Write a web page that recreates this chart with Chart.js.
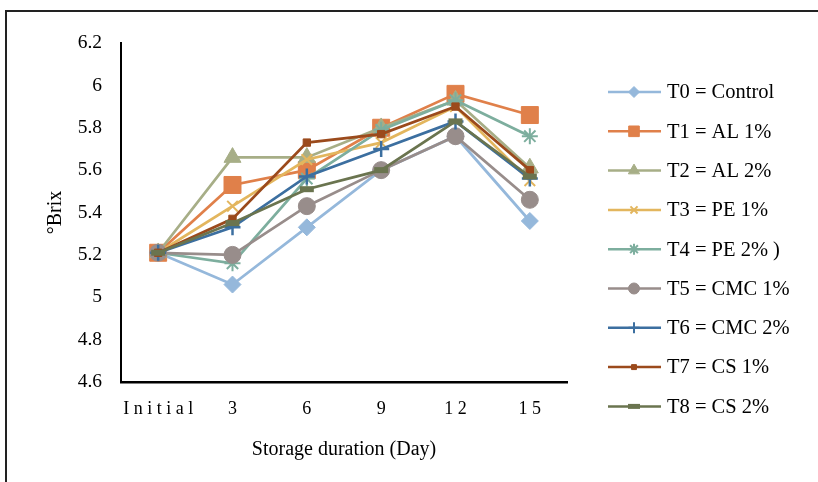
<!DOCTYPE html>
<html>
<head>
<meta charset="utf-8">
<script src="https://cdn.jsdelivr.net/npm/chart.js@4.4.0/dist/chart.umd.min.js"></script>
<style>
html, body { margin: 0; padding: 0; background: #fff; overflow: hidden; }
#wrap { position: relative; width: 818px; height: 482px; }
#frame { position: absolute; left: 5px; top: 10px; width: 900px; height: 600px; border: 2px solid #222; box-sizing: border-box; }
canvas { position: absolute; left: 0; top: 0; }
</style>
</head>
<body>
<div id="wrap">
    <div id="frame"></div>
    <canvas id="myChart" width="818" height="482"></canvas>
</div>
<script>
// storage days and treatment names
const days = ['Initial', '3', '6', '9', '12', '15'];
const treatments = [
    'T0 = Control', 'T1 = AL 1%', 'T2 = AL 2%', 'T3 = PE 1%', 'T4 = PE 2% )',
    'T5 = CMC 1%', 'T6 = CMC 2%', 'T7 = CS 1%', 'T8 = CS 2%'
];

// °Brix per treatment
const t0 = [5.21, 5.06, 5.33, 5.60, 5.76, 5.36];
const t1 = [5.21, 5.53, 5.60, 5.80, 5.96, 5.86];
const t2 = [5.21, 5.66, 5.66, 5.80, 5.93, 5.61];
const t3 = [5.21, 5.43, 5.65, 5.73, 5.90, 5.55];
const t4 = [5.21, 5.16, 5.56, 5.79, 5.93, 5.76];
const t5 = [5.21, 5.20, 5.43, 5.60, 5.76, 5.46];
const t6 = [5.21, 5.33, 5.57, 5.70, 5.83, 5.56];
const t7 = [5.21, 5.37, 5.73, 5.77, 5.90, 5.60];
const t8 = [5.21, 5.35, 5.51, 5.60, 5.83, 5.57];
const values = [t0, t1, t2, t3, t4, t5, t6, t7, t8];

const yMin = 4.6, yMax = 6.2, yStep = 0.2;

// look of each series: colour, marker, marker size (plot / legend)
const colors = ['#95b8db', '#e0804a', '#a7ae87', '#e3b65e', '#7dae9e', '#988d8b', '#3c6fa0', '#9b4a1c', '#6a744f'];
const markers = ['rectRot', 'rect', 'triangle', 'crossRot', 'star', 'circle', 'cross', 'rect', 'line'];
const markerSize = [8.5, 12, 9.8, 7.5, 8, 8.5, 8, 5.2, 7];
const markerBorder = [1, 1, 1, 2, 2, 1, 2.5, 1, 6];
const legendSize = [5.5, 7.5, 6.5, 5, 5.5, 5.5, 5.5, 3.5, 6];
const legendBorder = [1, 1, 1, 2, 2, 1, 2, 1, 5];

const serif = '"Liberation Serif", "Times New Roman", serif';

const datasets = treatments.map((name, i) => ({
    label: name,
    data: values[i],
    borderColor: colors[i],
    backgroundColor: colors[i],
    pointBackgroundColor: colors[i],
    pointBorderColor: colors[i],
    pointStyle: markers[i],
    pointRadius: markerSize[i],
    pointBorderWidth: markerBorder[i],
    borderWidth: 2.75,
    tension: 0,
    fill: false,
    order: treatments.length - i
}));

// legend on the right: line + marker + name
const sideLegend = {
    id: 'sideLegend',
    afterDraw(chart) {
        const ctx = chart.ctx;
        const top = 92, step = 39.3;
        chart.data.datasets.forEach((ds, i) => {
            const y = top + i * step;
            ctx.save();
            ctx.strokeStyle = ds.borderColor;
            ctx.lineWidth = 2.5;
            ctx.beginPath();
            ctx.moveTo(608, y);
            ctx.lineTo(661, y);
            ctx.stroke();
            ctx.fillStyle = ds.pointBackgroundColor;
            ctx.strokeStyle = ds.pointBorderColor;
            ctx.lineWidth = legendBorder[i];
            Chart.helpers.drawPoint(ctx, {
                pointStyle: ds.pointStyle,
                radius: legendSize[i],
                rotation: 0,
                borderWidth: legendBorder[i]
            }, 634, y);
            ctx.fillStyle = '#000';
            ctx.font = '20.5px ' + serif;
            ctx.textBaseline = 'middle';
            ctx.textAlign = 'left';
            ctx.fillText(ds.label, 667, y + 1);
            ctx.restore();
        });
    }
};

new Chart(document.getElementById('myChart'), {
    type: 'line',
    data: { labels: days, datasets },
    options: {
        responsive: false,
        animation: false,
        layout: { padding: { left: 0, right: 251, top: 43, bottom: 0 } },
        plugins: { legend: { display: false }, tooltip: { enabled: false } },
        scales: {
            x: {
                offset: true,
                grid: { drawOnChartArea: false, drawTicks: false },
                border: { display: true, color: '#000', width: 2.5 },
                ticks: {
                    color: '#000',
                    padding: 16,
                    maxRotation: 0,
                    font: { family: serif, size: 18 },
                    // letter-spaced category labels
                    callback: function (v) { return this.getLabelForValue(v).split('').join(' '); }
                },
                title: {
                    display: true,
                    text: 'Storage duration (Day)',
                    color: '#000',
                    font: { family: serif, size: 20 },
                    padding: { top: 0, bottom: 20 }
                },
                afterFit: s => { s.height = 100; }
            },
            y: {
                min: yMin,
                max: yMax,
                grid: { drawOnChartArea: false, drawTicks: false },
                border: { display: true, color: '#000', width: 2 },
                ticks: {
                    stepSize: yStep,
                    color: '#000',
                    padding: 19,
                    font: { family: serif, size: 19.5 },
                    callback: v => String(Math.round(v * 10) / 10)
                },
                title: {
                    display: true,
                    text: '°Brix',
                    color: '#000',
                    font: { family: serif, size: 20 },
                    padding: { top: 44, bottom: 0 }
                },
                afterFit: s => { s.width = 121; }
            }
        }
    },
    plugins: [sideLegend]
});
</script>
</body>
</html>
